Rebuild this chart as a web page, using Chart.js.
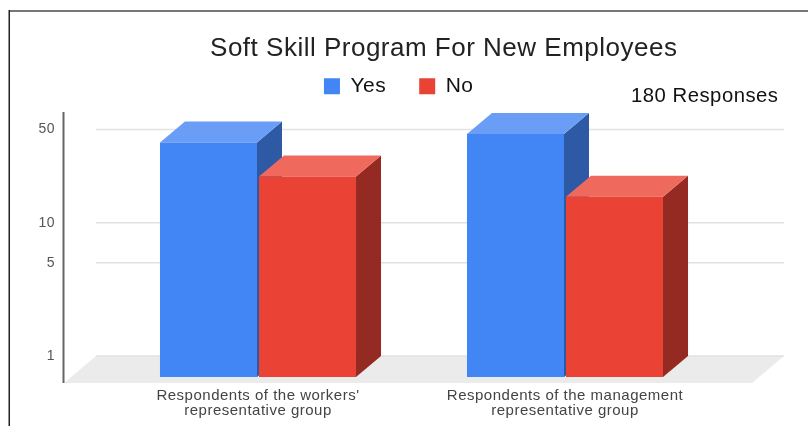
<!DOCTYPE html>
<html>
<head>
<meta charset="utf-8">
<title>Soft Skill Program For New Employees</title>
<script src="https://cdn.jsdelivr.net/npm/chart.js@4"></script>
<style>
  html, body { margin: 0; background: #fff; }
  canvas { display: block; }
</style>
</head>
<body>
<canvas id="softSkillChart" width="808" height="426"></canvas>
<script>
const categories = [
    ["Respondents of the workers'", 'representative group'],
    ['Respondents of the management', 'representative group']
];
const yesValues = [57.5, 66.5];
const noValues = [32, 22.5];
const tickValues = [1, 5, 10, 50];
const titleText = 'Soft Skill Program For New Employees';
const noteText = '180 Responses';

const fontName = '"Liberation Sans", Arial, sans-serif';
// how far the front of a bar sits from the back wall
const depthX = 25;
const depthY = 21;
const sideColors = ['#2d59a5', '#942a21'];
const topColors = ['#699df6', '#ef6a5d'];

function polygon(ctx, points, color) {
    ctx.fillStyle = color;
    ctx.beginPath();
    points.forEach((p, i) => i ? ctx.lineTo(p[0], p[1]) : ctx.moveTo(p[0], p[1]));
    ctx.closePath();
    ctx.fill();
}

const scene3d = {
    id: 'scene3d',
    beforeLayout(chart) {
        // the reference text is stretched sideways
        chart.ctx.letterSpacing = '0.5px';
    },
    afterLayout(chart) {
        // title and legend are centred over the page, not the plot
        chart.titleBlock.left += 72;
        chart.titleBlock.right += 72;
        chart.titleBlock.top += 18.7;
        chart.titleBlock.bottom += 18.7;
        chart.legend.left += 27;
        chart.legend.right += 27;
        chart.legend.top -= 3.3;
        chart.legend.bottom -= 3.3;
    },
    beforeDraw(chart) {
        const ctx = chart.ctx;
        const y = chart.scales.y;
        ctx.letterSpacing = '0.5px';
        ctx.save();
        // page frame
        ctx.fillStyle = '#777777';
        ctx.fillRect(9, 10, 799, 2);
        ctx.fillStyle = '#222222';
        ctx.fillRect(8.5, 10, 1.5, 416);

        // floor
        const floorY = y.getPixelForValue(1);
        polygon(ctx, [[96, floorY], [784, floorY], [752, floorY + 27], [64, floorY + 27]], '#ebebeb');

        // grid on the back wall
        ctx.strokeStyle = '#e2e2e2';
        ctx.lineWidth = 1.5;
        tickValues.forEach(v => {
            const py = y.getPixelForValue(v);
            ctx.beginPath();
            ctx.moveTo(96, py);
            ctx.lineTo(784, py);
            ctx.stroke();
        });

        // axis line
        ctx.fillStyle = '#666666';
        ctx.fillRect(62.5, 112, 2, 271);
        ctx.restore();
    },
    beforeDatasetsDraw(chart) {
        const ctx = chart.ctx;
        chart.data.datasets.forEach((ds, d) => {
            chart.getDatasetMeta(d).data.forEach(bar => {
                const left = bar.x - bar.width / 2 - depthX;
                const right = bar.x + bar.width / 2 - depthX;
                const top = bar.y + depthY;
                const base = bar.base + depthY;
                polygon(ctx, [[right, top], [right + depthX, top - depthY], [right + depthX, base - depthY], [right, base]], sideColors[d]);
                polygon(ctx, [[left, top], [left + depthX, top - depthY], [right + depthX, top - depthY], [right, top]], topColors[d]);
            });
        });
    },
    beforeDatasetDraw(chart) {
        // bar fronts stand forward of the wall the scale is measured on
        chart.ctx.save();
        chart.ctx.translate(-depthX, depthY);
    },
    afterDatasetDraw(chart) {
        chart.ctx.restore();
    },
    afterDraw(chart) {
        const ctx = chart.ctx;
        ctx.save();
        ctx.fillStyle = '#111111';
        ctx.font = '20.3px ' + fontName;
        ctx.textAlign = 'right';
        ctx.textBaseline = 'middle';
        ctx.fillText(noteText, 778.5, 96);
        ctx.restore();
    }
};

new Chart(document.getElementById('softSkillChart'), {
    type: 'bar',
    data: {
        labels: categories,
        datasets: [
            { label: 'Yes', data: yesValues, backgroundColor: '#4285f4' },
            { label: 'No', data: noValues, backgroundColor: '#ea4335' }
        ]
    },
    options: {
        responsive: false,
        animation: false,
        events: [],
        categoryPercentage: 0.645,
        barPercentage: 0.98,
        layout: { padding: { top: 14.9, right: 64.5, bottom: 0, left: 0 } },
        plugins: {
            tooltip: { enabled: false },
            title: {
                display: true,
                text: titleText,
                color: '#222222',
                padding: 0,
                font: { family: fontName, size: 26, weight: 'normal' }
            },
            legend: {
                position: 'top',
                labels: {
                    boxWidth: 16,
                    boxHeight: 16,
                    padding: 33,
                    color: '#111111',
                    font: { family: fontName, size: 21 }
                }
            }
        },
        scales: {
            x: {
                grid: { display: false },
                border: { display: false },
                afterFit(scale) { scale.height = 70; },
                ticks: {
                    padding: 24,
                    labelOffset: -depthX,
                    maxRotation: 0,
                    color: '#444444',
                    font: { family: fontName, size: 15, lineHeight: 1 }
                }
            },
            y: {
                type: 'logarithmic',
                min: 1,
                max: 70,
                // long invisible tick marks push the labels out to the axis line
                grid: { drawOnChartArea: false, tickColor: 'transparent', tickLength: 68 },
                border: { display: false },
                afterFit(scale) { scale.width = 129.5; },
                afterBuildTicks(scale) {
                    scale.ticks = tickValues.map(v => ({ value: v }));
                },
                ticks: {
                    padding: 6.5,
                    autoSkip: false,
                    color: '#555555',
                    font: { family: fontName, size: 14 },
                    callback: v => String(v)
                }
            }
        }
    },
    plugins: [scene3d]
});
</script>
</body>
</html>
